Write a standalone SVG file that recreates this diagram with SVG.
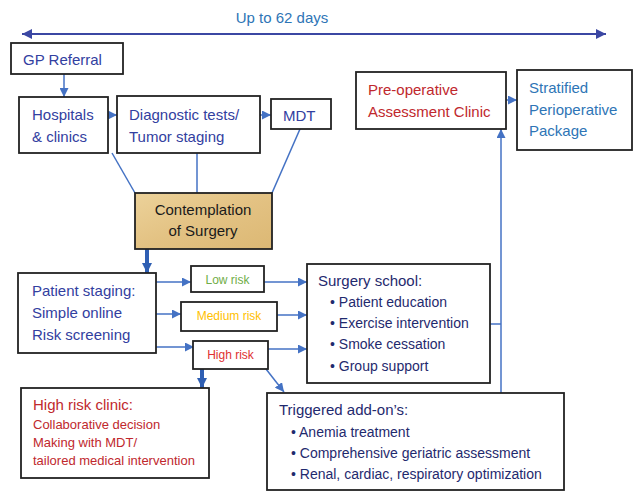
<svg xmlns="http://www.w3.org/2000/svg" width="634" height="491" viewBox="0 0 634 491">
<defs>
<marker id="ah" viewBox="0 0 10 10" refX="10" refY="5" markerWidth="9" markerHeight="9" markerUnits="userSpaceOnUse" orient="auto">
<path d="M0,0 L10,5 L0,10 z" fill="#4472c4"/>
</marker>
<marker id="ahT" viewBox="0 0 10 10" refX="10" refY="5" markerWidth="10" markerHeight="10" markerUnits="userSpaceOnUse" orient="auto">
<path d="M0,0 L10,5 L0,10 z" fill="#2f5fb3"/>
</marker>
<marker id="ahD" viewBox="0 0 10 10" refX="10" refY="5" markerWidth="10" markerHeight="10" markerUnits="userSpaceOnUse" orient="auto-start-reverse">
<path d="M0,0 L10,5 L0,10 z" fill="#3b47a3"/>
</marker>
<linearGradient id="parch" x1="0" y1="0" x2="1" y2="1">
<stop offset="0" stop-color="#ecd29a"/>
<stop offset="0.5" stop-color="#e3c283"/>
<stop offset="1" stop-color="#dcb874"/>
</linearGradient>
</defs>
<style>
text{font-family:"Liberation Sans",Arial,sans-serif;}
.box{fill:#fff;stroke:#222;stroke-width:1.8;}
.c{stroke:#4472c4;stroke-width:1.5;fill:none;}
.ca{stroke:#4472c4;stroke-width:1.5;fill:none;marker-end:url(#ah);}
.thick{stroke:#2f5fb3;stroke-width:4;fill:none;marker-end:url(#ahT);}
.ind{fill:#3240a0;font-size:15px;}
.red{fill:#c0282d;}
.sb{fill:#2e75b6;font-size:15px;}
.navy{fill:#1f2a6e;font-size:14px;}
.hd{font-size:15px;}
</style>

<text x="282" y="23" text-anchor="middle" fill="#2e75b6" font-size="15">Up to 62 days</text>

<g id="connectors">
<line x1="22" y1="34" x2="606" y2="34" stroke="#3b47a3" stroke-width="2" marker-start="url(#ahD)" marker-end="url(#ahD)"/>
<line class="ca" x1="64" y1="74" x2="64" y2="97"/>
<line class="ca" x1="108" y1="115" x2="117" y2="115"/>
<line class="ca" x1="260" y1="115" x2="271" y2="115"/>
<line class="c" x1="112" y1="153" x2="135" y2="193"/>
<line class="c" x1="197" y1="153" x2="197" y2="193"/>
<line class="c" x1="300" y1="129" x2="272" y2="193"/>
<line class="thick" x1="147" y1="249" x2="147" y2="273"/>
<line class="ca" x1="156" y1="282" x2="191" y2="282"/>
<line class="ca" x1="156" y1="314" x2="181" y2="314"/>
<line class="ca" x1="156" y1="347" x2="194" y2="347"/>
<line class="ca" x1="264" y1="282" x2="307" y2="282"/>
<line class="ca" x1="277" y1="315" x2="307" y2="315"/>
<line class="ca" x1="268" y1="349" x2="307" y2="349"/>
<line class="thick" x1="202" y1="369" x2="202" y2="388"/>
<line class="ca" x1="266" y1="369" x2="284" y2="392"/>
<line class="c" x1="490" y1="324" x2="501" y2="324"/>
<line class="ca" x1="501" y1="393" x2="501" y2="129"/>
<line class="ca" x1="506" y1="100" x2="517" y2="100"/>
</g>

<g id="gp-referral">
<rect class="box" x="11" y="43" width="112" height="31"/>
<text class="ind" x="23" y="65">GP Referral</text>
</g>

<g id="hospitals">
<rect class="box" x="19" y="97" width="89" height="56"/>
<text class="ind" x="32" y="120">Hospitals</text>
<text class="ind" x="32" y="142">&amp; clinics</text>
</g>

<g id="diagnostic">
<rect class="box" x="117" y="96" width="143" height="57"/>
<text class="ind" x="129" y="120">Diagnostic tests/</text>
<text class="ind" x="129" y="142">Tumor staging</text>
</g>

<g id="mdt">
<rect class="box" x="271" y="99" width="60" height="30"/>
<text class="ind" x="283" y="121">MDT</text>
</g>

<g id="contemplation">
<rect x="135" y="193" width="137" height="56" fill="url(#parch)" stroke="#222" stroke-width="1.8"/>
<text x="203" y="215" text-anchor="middle" fill="#1a1a1a" font-size="15">Contemplation</text>
<text x="203" y="236" text-anchor="middle" fill="#1a1a1a" font-size="15">of Surgery</text>
</g>

<g id="preop">
<rect class="box" x="356" y="72" width="150" height="57"/>
<text class="red" x="368" y="95" font-size="15">Pre-operative</text>
<text class="red" x="368" y="117" font-size="15">Assessment Clinic</text>
</g>

<g id="stratified">
<rect class="box" x="517" y="70" width="115" height="80"/>
<text class="sb" x="529" y="93">Stratified</text>
<text class="sb" x="529" y="115">Perioperative</text>
<text class="sb" x="529" y="136">Package</text>
</g>

<g id="patient-staging">
<rect class="box" x="18" y="273" width="138" height="80"/>
<text class="ind" x="32" y="296">Patient staging:</text>
<text class="ind" x="32" y="318">Simple online</text>
<text class="ind" x="32" y="340">Risk screening</text>
</g>

<g id="low-risk">
<rect class="box" x="191" y="266" width="73" height="26"/>
<text x="227.5" y="284" text-anchor="middle" fill="#70ad47" font-size="12">Low risk</text>
</g>

<g id="medium-risk">
<rect class="box" x="181" y="302" width="96" height="29"/>
<text x="229" y="320" text-anchor="middle" fill="#ffc000" font-size="12">Medium risk</text>
</g>

<g id="high-risk">
<rect class="box" x="193" y="341" width="75" height="28"/>
<text x="230.5" y="359" text-anchor="middle" fill="#e03030" font-size="12">High risk</text>
</g>

<g id="surgery-school">
<rect class="box" x="307" y="264" width="183" height="119"/>
<text class="navy hd" x="318" y="286">Surgery school:</text>
<text class="navy" x="330" y="307">• Patient education</text>
<text class="navy" x="330" y="328">• Exercise intervention</text>
<text class="navy" x="330" y="349">• Smoke cessation</text>
<text class="navy" x="330" y="371">• Group support</text>
</g>

<g id="high-risk-clinic">
<rect class="box" x="21" y="388" width="188" height="90"/>
<text class="red" x="33" y="410" font-size="15">High risk clinic:</text>
<text class="red" x="33" y="429" font-size="13">Collaborative decision</text>
<text class="red" x="33" y="447" font-size="13">Making with MDT/</text>
<text class="red" x="33" y="465" font-size="13">tailored medical intervention</text>
</g>

<g id="triggered">
<rect class="box" x="267" y="393" width="297" height="97"/>
<text class="navy hd" x="279" y="415">Triggered add-on’s:</text>
<text class="navy" x="291" y="437">• Anemia treatment</text>
<text class="navy" x="291" y="458">• Comprehensive geriatric assessment</text>
<text class="navy" x="291" y="479">• Renal, cardiac, respiratory optimization</text>
</g>
</svg>
